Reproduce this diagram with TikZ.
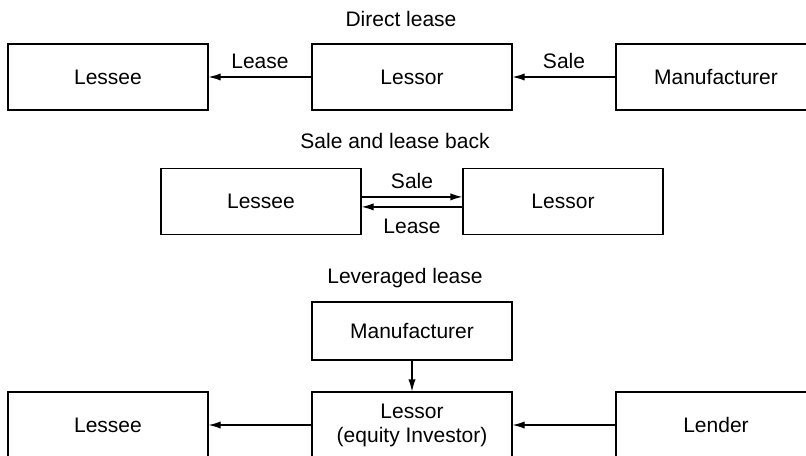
\documentclass[tikz,border=0pt]{standalone}
\usepackage{fontspec}
\setmainfont{Liberation Sans}
\usetikzlibrary{positioning}
\usetikzlibrary{arrows.meta}
\tikzset{>={Latex[length=6pt,width=3.6pt]}}
\tikzset{party/.style={draw, line width=0.6pt, minimum width=100pt, minimum height=33pt, inner sep=0pt, align=center, font=\fontsize{10.5}{12}\selectfont}}
\tikzset{ttl/.style={font=\fontsize{10.5}{12}\selectfont}}
\tikzset{lbl/.style={inner sep=4pt, font=\fontsize{10.5}{12}\selectfont}}

\begin{document}
\begin{tikzpicture}[x=0.5pt,y=-0.5pt]
\useasboundingbox (0,0) rectangle (806,455);
\clip (0,0) rectangle (806,455);
\begin{scope}[on grid, line width=0.6pt]
% direct lease
\node[ttl] (t1) at (401,19) {Direct lease};
\node[party] (lessor1) at (412,77) {Lessor};
\node[party] (lessee1) [left=152pt of lessor1] {Lessee};
\node[party] (maker1) [right=152pt of lessor1] {Manufacturer};

\draw[->] (lessor1) -- node[lbl,above] {Lease} (lessee1);
\draw[->] (maker1) -- node[lbl,above] {Sale} (lessor1);

% sale and lease back
\node[ttl] (t2) at (395,141) {Sale and lease back};
\node[party] (lessee2) at (261,201.5) {Lessee};
\node[party] (lessor2) [right=151pt of lessee2] {Lessor};

\draw[->] ([yshift=2.3pt]lessee2.east) -- node[lbl,above] {Sale} ([yshift=2.3pt]lessor2.west);
\draw[->] ([yshift=-2.7pt]lessor2.west) -- node[lbl,below=2pt] {Lease} ([yshift=-2.7pt]lessee2.east);

% leveraged lease
\node[ttl] (t3) at (405,278) {Leveraged lease};
\node[party] (lessor3) at (412,425) {Lessor\\(equity Investor)};
\node[party, minimum height=29pt] (maker3) [above=47pt of lessor3] {Manufacturer};
\node[party] (lessee3) [left=152pt of lessor3] {Lessee};
\node[party] (lender3) [right=152pt of lessor3] {Lender};

\draw[->] (maker3) -- (lessor3);
\draw[->] (lessor3) -- (lessee3);
\draw[->] (lender3) -- (lessor3);
\end{scope}
\end{tikzpicture}
\end{document}
